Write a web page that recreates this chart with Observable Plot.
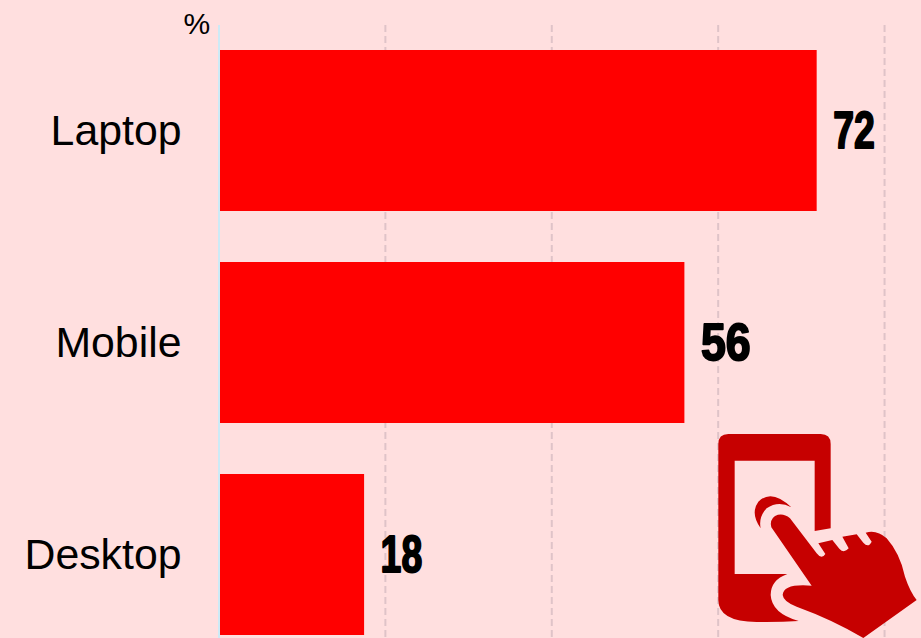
<!DOCTYPE html>
<html>
<head>
<meta charset="utf-8">
<script src="https://cdn.jsdelivr.net/npm/d3@7"></script>
<script src="https://cdn.jsdelivr.net/npm/@observablehq/plot@0.6"></script>
<style>
html,body{margin:0;padding:0;background:#ffdfdf;overflow:hidden}
#wrap{position:relative;width:921px;height:638px}
#wrap svg{display:block}
#icon{position:absolute;left:700px;top:420px}
</style>
</head>
<body>
<div id="wrap"></div>
<script>
const categories = ["Laptop", "Mobile", "Desktop"];
const values = [71.9, 56, 17.5];
const valueLabels = ["72", "56", "18"];
const gridTicks = [20, 40, 60, 80];
const rows = categories.map((c, i) => ({category: c, value: values[i], label: valueLabels[i]}));

const chart = Plot.plot({
  width: 921,
  height: 638,
  marginLeft: 219,
  marginRight: 0,
  marginTop: 25,
  marginBottom: 0,
  style: {background: "#ffdfdf", fontFamily: "'Liberation Sans', Arial, sans-serif"},
  x: {domain: [0, 84.2], range: [218.5, 919], axis: null},
  y: {domain: categories, range: [25, 661], paddingInner: 0.24, paddingOuter: 0.12, align: 0.5, label: null, axis: null},
  marks: [
    Plot.ruleX(gridTicks, {stroke: "#dfc3c8", strokeWidth: 2, strokeDasharray: "7 4"}),
    Plot.barX(rows, {x: "value", y: "category", fill: "#ff0000"}),
    Plot.ruleX([0], {stroke: "#cdeaf6", strokeWidth: 2}),
    Plot.axisY({anchor: "left", tickSize: 0, tickPadding: 38, fontSize: 42.8, label: null, fill: "#000"}),
    Plot.text(rows, {
      x: "value", y: "category", text: "label", textAnchor: "start", className: "val",
      fontWeight: "bold", fontSize: 52, fill: "#000", stroke: "#000", strokeWidth: 2
    }),
    Plot.text(["%"], {frameAnchor: "top-left", dx: -36, dy: -13, fontSize: 30, fill: "#000"})
  ]
});
// Squeeze the value labels into the condensed look of the original
d3.select(chart).selectAll(".val text").each(function() {
  const t = d3.select(this);
  const sx = t.text() === "56" ? 0.86 : 0.72;
  t.attr("transform", (t.attr("transform") || "") + ` translate(16,0) scale(${sx},1)`);
});
document.getElementById("wrap").appendChild(chart);

// Decorative phone-and-hand icon
const ns = "http://www.w3.org/2000/svg";
const icon = document.createElementNS(ns, "svg");
icon.setAttribute("id", "icon");
icon.setAttribute("width", 221);
icon.setAttribute("height", 218);
icon.setAttribute("viewBox", "0 0 663 654");
[
  "M85 42H362Q392 42 392 72V325L344 333V122H104V462H262Q212 480 212 525Q215 580 296 603Q240 607 170 606Q55 605 55 540V72Q55 42 85 42Z",
  "M182 325Q150 280 175 245Q215 205 274 262Q235 240 200 265Q175 290 182 325Z",
  "M214 322Q208 300 225 288Q248 277 270 295L350 400Q365 420 376 402L355 370L397 360L418 386Q432 402 446 385L427 350L470 343L490 368Q505 385 515 365L497 338Q530 328 560 355Q600 400 615 470Q630 515 650 540L490 654Q400 600 290 560Q250 545 248 525Q250 490 335 497Z"
].forEach(d => {
  const p = document.createElementNS(ns, "path");
  p.setAttribute("d", d);
  p.setAttribute("fill", "#c60000");
  icon.appendChild(p);
});
document.getElementById("wrap").appendChild(icon);
</script>
</body>
</html>
